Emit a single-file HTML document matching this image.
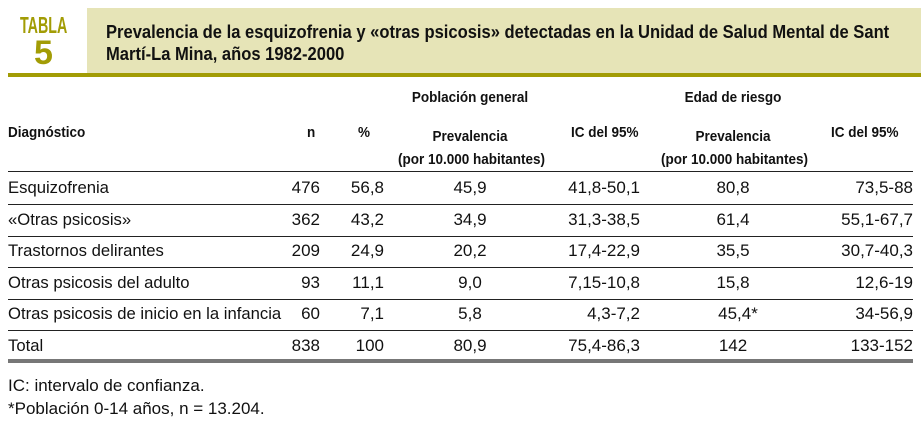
<!DOCTYPE html>
<html><head><meta charset="utf-8">
<style>
body{margin:0;width:921px;height:423px;background:#fff;overflow:hidden;font-family:"Liberation Sans Narrow","Liberation Sans",sans-serif;color:#111;}
.a{position:absolute;white-space:nowrap;line-height:1;}
.b{font-weight:bold;}
.c{text-align:center;}
.t{font-size:17px;}
.h{font-size:15px;font-weight:bold;transform:scaleX(0.9);transform-origin:left top;}
.h.c{transform-origin:center top;}
.line{position:absolute;left:8px;width:905px;height:1px;background:#222;}
</style></head><body>
<div class="a" style="left:87px;top:8px;width:834px;height:66px;background:#e6e4b7;"></div>
<div class="a" style="left:8px;top:73px;width:913px;height:4px;background:#a29c05;"></div>
<div class="a b" style="left:20px;top:14px;font-size:23px;color:#a29c05;transform:scaleX(0.62);transform-origin:left top;">TABLA</div>
<div class="a b" style="left:34px;top:36px;font-size:34px;color:#a29c05;">5</div>
<div class="a b" style="left:106px;top:21px;font-size:18px;line-height:22px;transform:scaleX(0.92);transform-origin:left top;">Prevalencia de la esquizofrenia y «otras psicosis» detectadas en la Unidad de Salud Mental de Sant<br>Martí-La Mina, años 1982-2000</div>

<div class="a h c" style="left:390px;width:160px;top:90px;">Población general</div>
<div class="a h c" style="left:653px;width:160px;top:90px;">Edad de riesgo</div>
<div class="a h" style="left:8px;top:125px;">Diagnóstico</div>
<div class="a h" style="left:307px;top:125px;">n</div>
<div class="a h" style="left:358px;top:125px;">%</div>
<div class="a h c" style="left:390px;width:160px;top:125px;line-height:23px;">Prevalencia<br>(por 10.000 habitantes)</div>
<div class="a h" style="left:571px;top:125px;">IC del 95%</div>
<div class="a h c" style="left:653px;width:160px;top:125px;line-height:23px;">Prevalencia<br>(por 10.000 habitantes)</div>
<div class="a h" style="left:831px;top:125px;">IC del 95%</div>
<div class="line" style="top:171px;"></div>

<div id="rows"></div>
<div class="a" style="left:8px;top:359px;width:905px;height:4px;background:#777;"></div>
<div class="a t" style="left:8px;top:377px;font-size:17px;">IC: intervalo de confianza.</div>
<div class="a t" style="left:8px;top:400px;font-size:17px;">*Población 0-14 años, n = 13.204.</div>

<script>
const diagnoses=["Esquizofrenia","«Otras psicosis»","Trastornos delirantes","Otras psicosis del adulto","Otras psicosis de inicio en la infancia","Total"];
const nValues=["476","362","209","93","60","838"];
const pctValues=["56,8","43,2","24,9","11,1","7,1","100"];
const prevGeneral=["45,9","34,9","20,2","9,0","5,8","80,9"];
const icGeneral=["41,8-50,1","31,3-38,5","17,4-22,9","7,15-10,8","4,3-7,2","75,4-86,3"];
const prevRiesgo=["80,8","61,4","35,5","15,8","45,4*","142"];
const icRiesgo=["73,5-88","55,1-67,7","30,7-40,3","12,6-19","34-56,9","133-152"];
const host=document.getElementById('rows');
function cell(txt,style,name){
  const d=document.createElement('div');
  d.className='a t';
  d.style.cssText=style;
  d.textContent=txt;
  
  
  host.appendChild(d);
}
for(let i=0;i<diagnoses.length;i++){
  const top=179+i*31.6;
  cell(diagnoses[i],`left:8px;top:${top}px;transform:scaleX(0.98);transform-origin:left top;`,'diagnosis-label');
  cell(nValues[i],`left:250px;width:70px;text-align:right;top:${top}px;`,'n-value');
  cell(pctValues[i],`left:310px;width:74px;text-align:right;top:${top}px;`,'percent-value');
  cell(prevGeneral[i],`left:390px;width:160px;text-align:center;top:${top}px;`,'prevalencia-general');
  cell(icGeneral[i],`left:540px;width:100px;text-align:right;top:${top}px;`,'ic-general');
  const pr=prevRiesgo[i];
  cell(pr,`left:${pr.endsWith('*')?658:653}px;width:160px;text-align:center;top:${top}px;`,'prevalencia-riesgo');
  cell(icRiesgo[i],`left:800px;width:113px;text-align:right;top:${top}px;`,'ic-riesgo');
  if(i<diagnoses.length-1){
    const l=document.createElement('div');
    l.className='line';
    l.style.top=(204+i*31.6)+'px';
    
    
    host.appendChild(l);
  }
}
</script>
</body></html>
